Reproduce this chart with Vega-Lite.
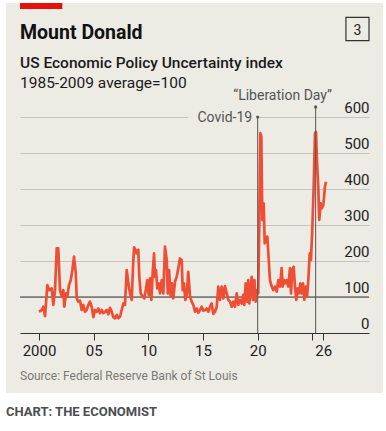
{
  "$schema": "https://vega.github.io/schema/vega-lite/v6.json",
  "width": 349,
  "height": 216,
  "autosize": {"type": "none"},
  "padding": {"left": 20, "top": 117, "right": 17, "bottom": 98},
  "background": "#ecebe4",
  "config": {
    "view": {"stroke": null},
    "font": "Roboto",
    "axisX": {"grid": false, "domainColor": "#333333", "domainWidth": 1, "tickColor": "#333333", "tickSize": 7, "tickCount": 12,
      "labelFontSize": 15, "labelColor": "#222222", "labelPadding": 3, "labelFlush": false, "labelOverlap": false},
    "axisY": {"tickCount": 12, "domain": false, "ticks": false, "tickSize": 0, "grid": true, "gridColor": "#c4c3bb", "gridWidth": 1,
      "labelAlign": "right", "labelPadding": -349, "labelBaseline": "alphabetic", "labelOffset": -4.5,
      "labelFontSize": 15, "labelColor": "#222222", "labelOverlap": false, "labelFlush": false}
  },
  "data": {"values": [
    {"year": 2000.00, "epu": 59}, {"year": 2000.25, "epu": 64}, {"year": 2000.39, "epu": 73}, {"year": 2000.55, "epu": 47},
    {"year": 2000.76, "epu": 133}, {"year": 2000.94, "epu": 119}, {"year": 2001.16, "epu": 124}, {"year": 2001.31, "epu": 78},
    {"year": 2001.46, "epu": 119}, {"year": 2001.62, "epu": 235}, {"year": 2001.76, "epu": 235}, {"year": 2001.92, "epu": 119},
    {"year": 2002.08, "epu": 101}, {"year": 2002.22, "epu": 119}, {"year": 2002.31, "epu": 73}, {"year": 2002.47, "epu": 110},
    {"year": 2002.59, "epu": 101}, {"year": 2002.74, "epu": 133}, {"year": 2002.90, "epu": 147}, {"year": 2003.05, "epu": 175},
    {"year": 2003.20, "epu": 212}, {"year": 2003.36, "epu": 167}, {"year": 2003.45, "epu": 96}, {"year": 2003.59, "epu": 87},
    {"year": 2003.75, "epu": 90}, {"year": 2003.90, "epu": 64}, {"year": 2004.05, "epu": 78}, {"year": 2004.21, "epu": 59},
    {"year": 2004.36, "epu": 64}, {"year": 2004.51, "epu": 78}, {"year": 2004.66, "epu": 87}, {"year": 2004.82, "epu": 73},
    {"year": 2004.97, "epu": 44}, {"year": 2005.12, "epu": 64}, {"year": 2005.28, "epu": 59}, {"year": 2005.42, "epu": 68},
    {"year": 2005.58, "epu": 55}, {"year": 2005.73, "epu": 64}, {"year": 2005.88, "epu": 55}, {"year": 2006.04, "epu": 59},
    {"year": 2006.19, "epu": 64}, {"year": 2006.34, "epu": 52}, {"year": 2006.49, "epu": 70}, {"year": 2006.65, "epu": 59},
    {"year": 2006.79, "epu": 44}, {"year": 2006.95, "epu": 41}, {"year": 2007.11, "epu": 50}, {"year": 2007.25, "epu": 41},
    {"year": 2007.41, "epu": 45}, {"year": 2007.56, "epu": 64}, {"year": 2007.71, "epu": 82}, {"year": 2007.86, "epu": 78},
    {"year": 2008.02, "epu": 175}, {"year": 2008.17, "epu": 138}, {"year": 2008.32, "epu": 110}, {"year": 2008.48, "epu": 92},
    {"year": 2008.62, "epu": 200}, {"year": 2008.70, "epu": 238}, {"year": 2008.80, "epu": 232}, {"year": 2008.93, "epu": 221},
    {"year": 2009.08, "epu": 231}, {"year": 2009.17, "epu": 156}, {"year": 2009.30, "epu": 110}, {"year": 2009.48, "epu": 101},
    {"year": 2009.63, "epu": 96}, {"year": 2009.79, "epu": 124}, {"year": 2009.90, "epu": 147}, {"year": 2010.03, "epu": 106},
    {"year": 2010.15, "epu": 152}, {"year": 2010.27, "epu": 92}, {"year": 2010.40, "epu": 170}, {"year": 2010.52, "epu": 221},
    {"year": 2010.61, "epu": 156}, {"year": 2010.70, "epu": 175}, {"year": 2010.82, "epu": 124}, {"year": 2010.95, "epu": 138},
    {"year": 2011.07, "epu": 110}, {"year": 2011.22, "epu": 147}, {"year": 2011.37, "epu": 110}, {"year": 2011.52, "epu": 240},
    {"year": 2011.68, "epu": 203}, {"year": 2011.77, "epu": 110}, {"year": 2011.89, "epu": 175}, {"year": 2012.04, "epu": 101},
    {"year": 2012.16, "epu": 138}, {"year": 2012.28, "epu": 96}, {"year": 2012.44, "epu": 143}, {"year": 2012.59, "epu": 156},
    {"year": 2012.74, "epu": 180}, {"year": 2012.89, "epu": 207}, {"year": 2013.05, "epu": 203}, {"year": 2013.14, "epu": 119},
    {"year": 2013.26, "epu": 138}, {"year": 2013.38, "epu": 92}, {"year": 2013.51, "epu": 106}, {"year": 2013.65, "epu": 170},
    {"year": 2013.81, "epu": 101}, {"year": 2013.96, "epu": 87}, {"year": 2014.11, "epu": 78}, {"year": 2014.27, "epu": 59},
    {"year": 2014.42, "epu": 68}, {"year": 2014.57, "epu": 56}, {"year": 2014.72, "epu": 64}, {"year": 2014.88, "epu": 73},
    {"year": 2015.03, "epu": 62}, {"year": 2015.18, "epu": 64}, {"year": 2015.34, "epu": 68}, {"year": 2015.48, "epu": 59},
    {"year": 2015.64, "epu": 73}, {"year": 2015.79, "epu": 82}, {"year": 2015.94, "epu": 53}, {"year": 2016.10, "epu": 59},
    {"year": 2016.25, "epu": 73}, {"year": 2016.40, "epu": 129}, {"year": 2016.55, "epu": 92}, {"year": 2016.71, "epu": 129},
    {"year": 2016.85, "epu": 96}, {"year": 2017.01, "epu": 130}, {"year": 2017.17, "epu": 110}, {"year": 2017.31, "epu": 92},
    {"year": 2017.47, "epu": 87}, {"year": 2017.62, "epu": 73}, {"year": 2017.77, "epu": 87}, {"year": 2017.92, "epu": 73},
    {"year": 2018.08, "epu": 110}, {"year": 2018.23, "epu": 78}, {"year": 2018.38, "epu": 92}, {"year": 2018.54, "epu": 82},
    {"year": 2018.68, "epu": 106}, {"year": 2018.77, "epu": 78}, {"year": 2018.90, "epu": 138}, {"year": 2019.02, "epu": 87},
    {"year": 2019.14, "epu": 147}, {"year": 2019.23, "epu": 82}, {"year": 2019.36, "epu": 119}, {"year": 2019.45, "epu": 156},
    {"year": 2019.57, "epu": 92}, {"year": 2019.70, "epu": 147}, {"year": 2019.82, "epu": 87}, {"year": 2019.96, "epu": 119},
    {"year": 2020.05, "epu": 110}, {"year": 2020.15, "epu": 314}, {"year": 2020.24, "epu": 555}, {"year": 2020.33, "epu": 546},
    {"year": 2020.42, "epu": 314}, {"year": 2020.55, "epu": 360}, {"year": 2020.64, "epu": 249}, {"year": 2020.76, "epu": 258},
    {"year": 2020.88, "epu": 268}, {"year": 2021.01, "epu": 203}, {"year": 2021.12, "epu": 147}, {"year": 2021.28, "epu": 129},
    {"year": 2021.43, "epu": 119}, {"year": 2021.58, "epu": 129}, {"year": 2021.74, "epu": 115}, {"year": 2021.88, "epu": 147},
    {"year": 2022.04, "epu": 129}, {"year": 2022.19, "epu": 180}, {"year": 2022.29, "epu": 129}, {"year": 2022.41, "epu": 147},
    {"year": 2022.52, "epu": 138}, {"year": 2022.65, "epu": 147}, {"year": 2022.80, "epu": 129}, {"year": 2022.95, "epu": 180},
    {"year": 2023.05, "epu": 110}, {"year": 2023.16, "epu": 175}, {"year": 2023.29, "epu": 184}, {"year": 2023.41, "epu": 129},
    {"year": 2023.53, "epu": 92}, {"year": 2023.66, "epu": 124}, {"year": 2023.78, "epu": 110}, {"year": 2023.90, "epu": 138},
    {"year": 2024.02, "epu": 110}, {"year": 2024.14, "epu": 138}, {"year": 2024.26, "epu": 92}, {"year": 2024.39, "epu": 129},
    {"year": 2024.51, "epu": 101}, {"year": 2024.63, "epu": 147}, {"year": 2024.76, "epu": 221}, {"year": 2024.87, "epu": 203},
    {"year": 2024.99, "epu": 286}, {"year": 2025.12, "epu": 406}, {"year": 2025.24, "epu": 555}, {"year": 2025.33, "epu": 559},
    {"year": 2025.42, "epu": 480}, {"year": 2025.54, "epu": 406}, {"year": 2025.63, "epu": 314}, {"year": 2025.76, "epu": 360},
    {"year": 2025.85, "epu": 346}, {"year": 2026.00, "epu": 355}, {"year": 2026.15, "epu": 406}, {"year": 2026.25, "epu": 420}
  ]},
  "layer": [
    {
      "data": {"values": [{}]},
      "mark": {"type": "rule", "color": "#3a3a3a", "strokeWidth": 1},
      "encoding": {"x": {"datum": 1998.26}, "x2": {"datum": 2030.18}, "y": {"datum": 100}}
    },
    {
      "mark": {"type": "line", "color": "#f04d35", "strokeWidth": 2.7, "strokeJoin": "round"},
      "encoding": {
        "x": {"field": "year", "type": "quantitative",
          "scale": {"domain": [1998.26, 2030.18], "nice": false, "zero": false},
          "axis": {"values": [2000, 2005, 2010, 2015, 2020, 2025, 2026], "tickCount": 12,
            "labelExpr": "datum.value == 2000 ? '2000' : (abs(datum.value - 2025) < 0.5 ? '' : format(datum.value % 100, '02d'))",
            "title": null}},
        "y": {"field": "epu", "type": "quantitative",
          "scale": {"domain": [0, 600], "nice": false, "zero": false},
          "axis": {"values": [0, 100, 200, 300, 400, 500, 600], "tickCount": 12, "title": null}}
      }
    },
    {
      "data": {"values": [{}]},
      "mark": {"type": "rect", "fill": "#ffffff"},
      "encoding": {"x": {"datum": 1990}, "x2": {"datum": 2040}, "y": {"datum": -166.7}, "y2": {"datum": -400}}
    },
    {
      "data": {"values": [{}]},
      "mark": {"type": "rect", "fill": "#ffffff"},
      "encoding": {"x": {"datum": 1990}, "x2": {"datum": 1996.98}, "y": {"datum": -400}, "y2": {"datum": 1200}}
    },
    {
      "data": {"values": [{}]},
      "mark": {"type": "rect", "fill": "#ffffff"},
      "encoding": {"x": {"datum": 2031.46}, "x2": {"datum": 2040}, "y": {"datum": -400}, "y2": {"datum": 1200}}
    },
    {
      "data": {"values": [{}]},
      "mark": {"type": "rect", "fill": "#ffffff"},
      "encoding": {"x": {"datum": 1990}, "x2": {"datum": 2040}, "y": {"datum": 916.7}, "y2": {"datum": 1200}}
    },
    {
      "data": {"values": [{}]},
      "mark": {"type": "rect", "fill": "#e3120b"},
      "encoding": {"x": {"datum": 1998.26}, "x2": {"datum": 2002.13}, "y": {"datum": 916.7}, "y2": {"datum": 900}}
    },
    {
      "data": {"values": [{}]},
      "mark": {"type": "rect", "fill": null, "stroke": "#333333", "strokeWidth": 1.2},
      "encoding": {"x": {"datum": 2028.07}, "x2": {"datum": 2030.18}, "y": {"datum": 876.9}, "y2": {"datum": 811.9}}
    },
    {
      "data": {"values": [{}]},
      "mark": {"type": "text", "align": "center", "baseline": "alphabetic", "fontSize": 14, "color": "#222222"},
      "encoding": {"x": {"datum": 2029.13}, "y": {"datum": 827.8}, "text": {"value": "3"}}
    },
    {
      "data": {"values": [{}]},
      "mark": {"type": "text", "align": "left", "baseline": "alphabetic", "fontSize": 19.5, "fontWeight": "bold", "color": "#111111"},
      "encoding": {"x": {"datum": 1998.26}, "y": {"datum": 815.8}, "text": {"value": "Mount Donald"}}
    },
    {
      "data": {"values": [{}]},
      "mark": {"type": "text", "align": "left", "baseline": "alphabetic", "fontSize": 15.5, "fontWeight": 500, "color": "#1a1a1a"},
      "encoding": {"x": {"datum": 1998.26}, "y": {"datum": 735.3}, "text": {"value": "US Economic Policy Uncertainty index"}}
    },
    {
      "data": {"values": [{}]},
      "mark": {"type": "text", "align": "left", "baseline": "alphabetic", "fontSize": 15.5, "color": "#1a1a1a"},
      "encoding": {"x": {"datum": 1998.26}, "y": {"datum": 679.7}, "text": {"value": "1985-2009 average=100"}}
    },
    {
      "data": {"values": [{}]},
      "mark": {"type": "rect", "fill": "#ecebe4"},
      "encoding": {"x": {"datum": 2013.63}, "x2": {"datum": 2019.95}, "y": {"datum": 596}, "y2": {"datum": 604}}
    },
    {
      "data": {"values": [{}]},
      "mark": {"type": "rule", "color": "#555555", "strokeWidth": 1},
      "encoding": {"x": {"datum": 2020.0}, "y": {"datum": 0}, "y2": {"datum": 600}}
    },
    {
      "data": {"values": [{}]},
      "mark": {"type": "rule", "color": "#555555", "strokeWidth": 1},
      "encoding": {"x": {"datum": 2025.3}, "y": {"datum": 0}, "y2": {"datum": 628}}
    },
    {
      "data": {"values": [{}]},
      "mark": {"type": "point", "filled": true, "color": "#555555", "size": 10, "opacity": 1},
      "encoding": {"x": {"datum": 2020.0}, "y": {"datum": 600}}
    },
    {
      "data": {"values": [{}]},
      "mark": {"type": "point", "filled": true, "color": "#555555", "size": 10, "opacity": 1},
      "encoding": {"x": {"datum": 2025.3}, "y": {"datum": 628}}
    },
    {
      "data": {"values": [{}]},
      "mark": {"type": "text", "align": "right", "baseline": "alphabetic", "dx": -5.5, "fontSize": 14, "color": "#555555"},
      "encoding": {"x": {"datum": 2020.0}, "y": {"datum": 587.5}, "text": {"value": "Covid-19"}}
    },
    {
      "data": {"values": [{}]},
      "mark": {"type": "text", "align": "center", "baseline": "alphabetic", "dx": -33, "fontSize": 14, "color": "#555555"},
      "encoding": {"x": {"datum": 2025.3}, "y": {"datum": 647.2}, "text": {"value": "“Liberation Day”"}}
    },
    {
      "data": {"values": [{}]},
      "mark": {"type": "text", "align": "left", "baseline": "alphabetic", "fontSize": 12, "color": "#7a7a74"},
      "encoding": {"x": {"datum": 1998.26}, "y": {"datum": -131.9}, "text": {"value": "Source: Federal Reserve Bank of St Louis"}}
    },
    {
      "data": {"values": [{}]},
      "mark": {"type": "text", "align": "left", "baseline": "alphabetic", "fontSize": 13, "fontWeight": "bold", "color": "#4d4d52"},
      "encoding": {"x": {"datum": 1996.98}, "y": {"datum": -230.6}, "text": {"value": "CHART: THE ECONOMIST"}}
    }
  ]
}
